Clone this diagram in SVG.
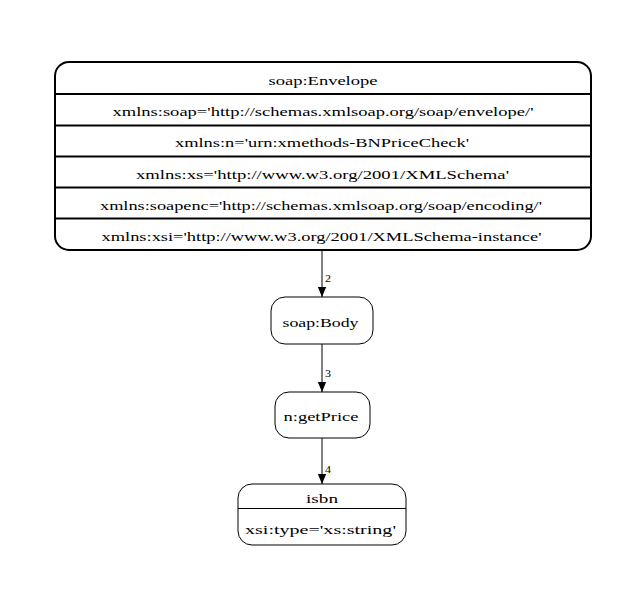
<svg xmlns="http://www.w3.org/2000/svg" width="644" height="611" viewBox="0 0 644 611">
<style>
text{font-family:"Liberation Serif","Times New Roman",serif;font-size:13.5px;fill:#000;text-anchor:middle}
.lbl{font-size:11px;text-anchor:start}
.box{fill:#fff;stroke:#000;stroke-width:1}
.bold{fill:#fff;stroke:#000;stroke-width:2}
.sep{stroke:#000;stroke-width:2}
.sep1{stroke:#000;stroke-width:1}
.edge{stroke:#000;stroke-width:1;fill:none}
</style>
<defs>
<marker id="arr" markerWidth="10" markerHeight="12" refX="12" refY="5" orient="auto" markerUnits="userSpaceOnUse" viewBox="0 0 12 10">
<path d="M0,0 L12,5 L0,10 Z" fill="#000"/>
</marker>
</defs>
<rect width="644" height="611" fill="#fff"/>
<g id="connectors">
<line class="edge" x1="322" y1="251" x2="322" y2="297" marker-end="url(#arr)"/>
<text class="lbl" x="325" y="282" textLength="6" lengthAdjust="spacingAndGlyphs">2</text>
<line class="edge" x1="322" y1="344" x2="322" y2="392" marker-end="url(#arr)"/>
<text class="lbl" x="325" y="377" textLength="6" lengthAdjust="spacingAndGlyphs">3</text>
<line class="edge" x1="322" y1="438" x2="322" y2="484" marker-end="url(#arr)"/>
<text class="lbl" x="325" y="473" textLength="6" lengthAdjust="spacingAndGlyphs">4</text>
</g>
<g id="envelope">
<rect class="bold" x="55" y="62" width="536" height="188" rx="14" ry="14"/>
<line class="sep" x1="55" y1="94" x2="591" y2="94"/>
<line class="sep" x1="55" y1="125.5" x2="591" y2="125.5"/>
<line class="sep" x1="55" y1="156.5" x2="591" y2="156.5"/>
<line class="sep" x1="55" y1="187.5" x2="591" y2="187.5"/>
<line class="sep" x1="55" y1="218.5" x2="591" y2="218.5"/>
<text x="323" y="84.5" textLength="109" lengthAdjust="spacingAndGlyphs">soap:Envelope</text>
<text x="323" y="116" textLength="421" lengthAdjust="spacingAndGlyphs">xmlns:soap='http://schemas.xmlsoap.org/soap/envelope/'</text>
<text x="322" y="147" textLength="294" lengthAdjust="spacingAndGlyphs">xmlns:n='urn:xmethods-BNPriceCheck'</text>
<text x="322.5" y="178.5" textLength="373" lengthAdjust="spacingAndGlyphs">xmlns:xs='http://www.w3.org/2001/XMLSchema'</text>
<text x="321" y="209.5" textLength="442" lengthAdjust="spacingAndGlyphs">xmlns:soapenc='http://schemas.xmlsoap.org/soap/encoding/'</text>
<text x="321.5" y="240.5" textLength="440" lengthAdjust="spacingAndGlyphs">xmlns:xsi='http://www.w3.org/2001/XMLSchema-instance'</text>
</g>
<g id="body">
<rect class="box" x="271" y="297" width="102" height="47" rx="14" ry="14"/>
<text x="320.5" y="327" textLength="76" lengthAdjust="spacingAndGlyphs">soap:Body</text>
</g>
<g id="getPrice">
<rect class="box" x="275" y="392" width="95" height="46" rx="14" ry="14"/>
<text x="321" y="421" textLength="75" lengthAdjust="spacingAndGlyphs">n:getPrice</text>
</g>
<g id="isbn">
<rect class="box" x="238" y="484" width="168" height="61" rx="14" ry="14"/>
<line class="sep1" x1="238" y1="508.5" x2="406" y2="508.5"/>
<text x="322" y="503" textLength="32" lengthAdjust="spacingAndGlyphs">isbn</text>
<text x="320.5" y="534" textLength="151" lengthAdjust="spacingAndGlyphs">xsi:type='xs:string'</text>
</g>
</svg>
